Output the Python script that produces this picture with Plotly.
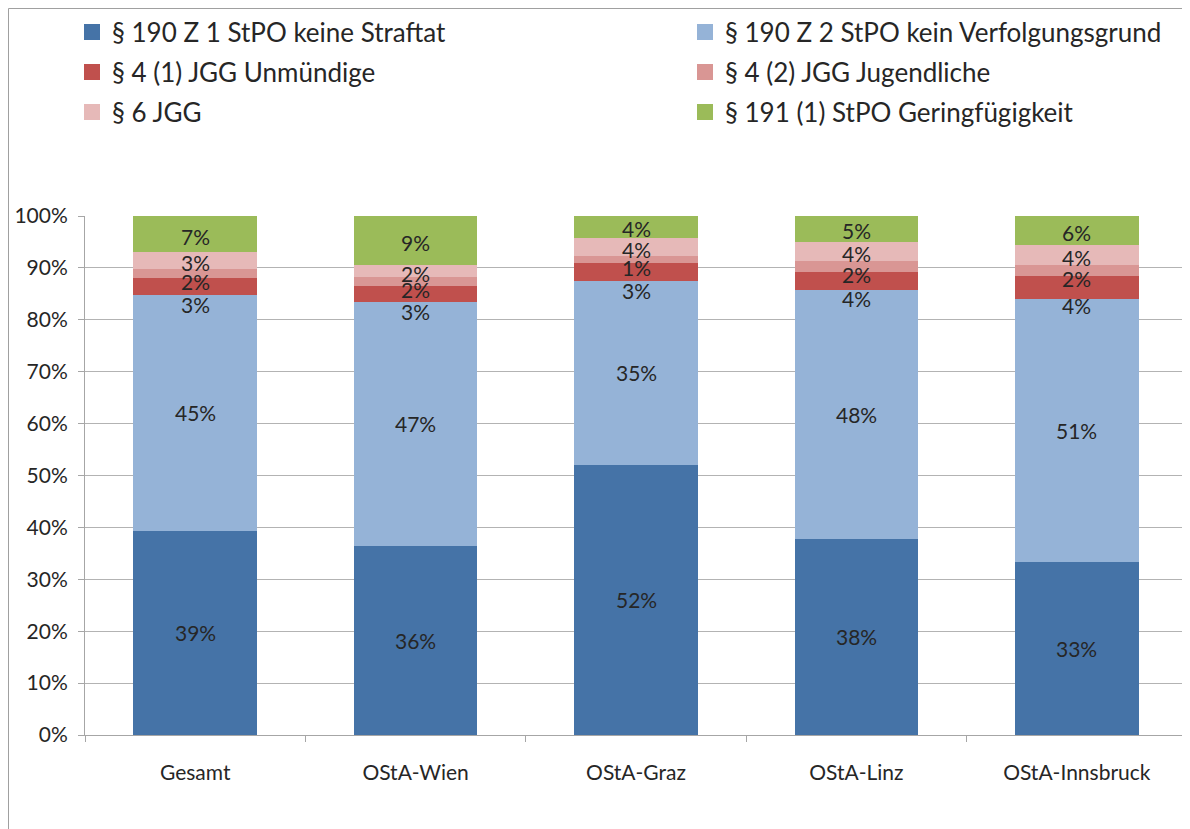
import plotly.graph_objects as go

categories = ["Gesamt", "OStA-Wien", "OStA-Graz", "OStA-Linz", "OStA-Innsbruck"]

series_names = [
    "§ 190 Z 1 StPO keine Straftat",
    "§ 190 Z 2 StPO kein Verfolgungsgrund",
    "§ 4 (1) JGG Unmündige",
    "§ 4 (2) JGG Jugendliche",
    "§ 6 JGG",
    "§ 191 (1) StPO Geringfügigkeit",
]

keine_straftat = [39.4, 36.4, 52.1, 37.8, 33.3]
kein_verfolgungsgrund = [45.4, 47.1, 35.4, 47.9, 50.7]
unmuendige = [3.2, 3.0, 3.4, 3.6, 4.4]
jugendliche = [1.7, 1.7, 1.3, 2.1, 2.1]
jgg6 = [3.3, 2.4, 3.6, 3.6, 3.9]
geringfuegigkeit = [7.0, 9.4, 4.2, 5.0, 5.6]

series_values = [keine_straftat, kein_verfolgungsgrund, unmuendige,
                 jugendliche, jgg6, geringfuegigkeit]

colors = ["#4573A7", "#95B3D7", "#C0504D", "#D99694", "#E6B9B8", "#9BBB59"]
legend_ids = ["legend", "legend2", "legend3", "legend4", "legend5", "legend6"]
label_shift = [0, 0, -18, -8, -2, -2]

FONT = "Lato, Calibri, sans-serif"
TXT = "#262626"

# page body adds an 8px offset; figure coordinates below are relative to the figure
W, H = 1190, 829
L, R, T, B = 77, 11, 208, 102
pw, ph = W - L - R, H - T - B


def px_x(p):
    return (p - L) / pw


def px_y(p):
    return (H - B - p) / ph


fig = go.Figure()
for name, vals, col in zip(series_names, series_values, colors):
    fig.add_trace(go.Bar(
        x=categories, y=vals, name=name, marker=dict(color=col, line=dict(width=0)),
        showlegend=False, hoverinfo="skip",
    ))

# legend entries (square swatches)
for name, col, lg in zip(series_names, colors, legend_ids):
    fig.add_trace(go.Scatter(
        x=[None], y=[None], mode="markers", name=name, legend=lg,
        marker=dict(symbol="square", size=16, color=col, line=dict(width=0)),
        showlegend=True,
    ))

# data labels
base = [0.0] * len(categories)
for vals, shift in zip(series_values, label_shift):
    for j, c in enumerate(categories):
        fig.add_annotation(
            x=c, y=base[j] + vals[j] / 2, text=f"{vals[j]:.0f}%",
            showarrow=False, yshift=shift,
            font=dict(family=FONT, size=21, color=TXT),
        )
        base[j] += vals[j]

legend_common = dict(
    orientation="h", xanchor="left", yanchor="middle",
    font=dict(family=FONT, size=26, color=TXT),
    bgcolor="rgba(0,0,0,0)", itemsizing="trace",
    itemclick=False, itemdoubleclick=False,
)
col_x = [64, 677]
row_y = [24, 64, 104]
legend_layout = {}
for i, lg in enumerate(legend_ids):
    legend_layout[lg] = dict(legend_common, x=px_x(col_x[i % 2]), y=px_y(row_y[i // 2]))

fig.update_layout(
    width=W, height=H,
    margin=dict(l=L, r=R, t=T, b=B, autoexpand=False),
    barmode="stack", bargap=0.44,
    plot_bgcolor="white", paper_bgcolor="white",
    font=dict(family=FONT, color=TXT),
    showlegend=True,
    **legend_layout,
    xaxis=dict(
        type="category", showline=True, linecolor="#A6A6A6", linewidth=1,
        ticks="outside", tickson="boundaries", ticklen=6, tickcolor="#A6A6A6",
        tickfont=dict(family=FONT, size=21, color=TXT), ticklabelstandoff=19,
        showgrid=False, automargin=False,
    ),
    yaxis=dict(
        range=[0, 100], dtick=10, ticksuffix="%", showgrid=True, gridcolor="#B3B3B3",
        gridwidth=1, showline=True, linecolor="#A6A6A6", linewidth=1,
        ticks="outside", ticklen=6, tickcolor="#A6A6A6", zeroline=False,
        tickfont=dict(family=FONT, size=21, color=TXT), ticklabelstandoff=6,
        automargin=False,
    ),
    shapes=[dict(
        type="rect", xref="paper", yref="paper",
        x0=px_x(0.5), x1=px_x(1200), y0=px_y(845), y1=px_y(0.5),
        line=dict(color="#A0A0A0", width=1), fillcolor="rgba(0,0,0,0)", layer="below",
    )],
)

fig.write_html("out.html")
